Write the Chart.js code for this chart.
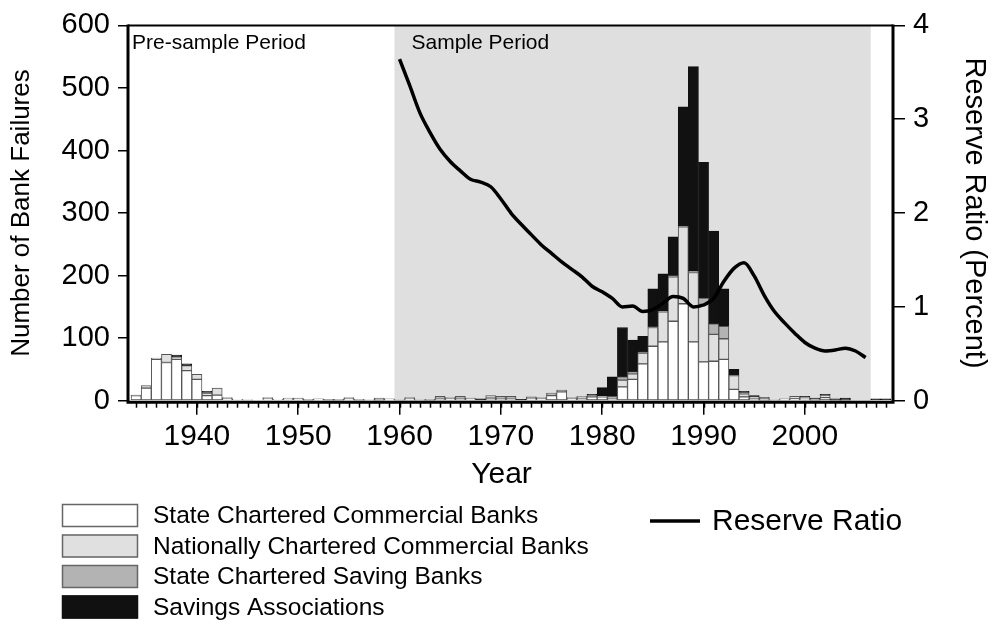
<!DOCTYPE html>
<html lang="en">
<head>
<meta charset="UTF-8">
<title>Bank Failures and Reserve Ratio</title>
<style>
    html, body { margin: 0; padding: 0; background: #fff; }
    #main { width: 992px; height: 624px; }
</style>
<script src="https://cdn.jsdelivr.net/npm/chart.js@4.4.1/dist/chart.umd.min.js"></script>
</head>
<body>
<div id="main"><canvas id="graph" width="992" height="624"></canvas></div>
<script>
// ---- data ----
const years = [
    1934, 1935, 1936, 1937, 1938, 1939,
    1940, 1941, 1942, 1943, 1944, 1945, 1946, 1947, 1948, 1949,
    1950, 1951, 1952, 1953, 1954, 1955, 1956, 1957, 1958, 1959,
    1960, 1961, 1962, 1963, 1964, 1965, 1966, 1967, 1968, 1969,
    1970, 1971, 1972, 1973, 1974, 1975, 1976, 1977, 1978, 1979,
    1980, 1981, 1982, 1983, 1984, 1985, 1986, 1987, 1988, 1989,
    1990, 1991, 1992, 1993, 1994, 1995, 1996, 1997, 1998, 1999,
    2000, 2001, 2002, 2003, 2004, 2005, 2006, 2007, 2008
]
const stateCommercial = [
    8, 20, 66, 61, 66, 48,
    34, 8, 9, 3, 2, 1, 0, 3, 2, 2,
    2, 1, 3, 1, 1, 3, 1, 1, 1, 3,
    1, 2, 1, 1, 4, 3, 4, 2, 0, 4,
    4, 4, 0, 3, 3, 8, 14, 3, 4, 6,
    6, 4, 22, 34, 59, 87, 94, 127, 155, 94,
    62, 63, 66, 18, 6, 4, 1, 1, 3, 3,
    2, 1, 5, 1, 1, 0, 0, 0, 0
]
const nationalCommercial = [
    1, 4, 2, 13, 4, 8,
    8, 4, 11, 2, 0, 0, 0, 2, 0, 2,
    1, 1, 0, 0, 1, 2, 1, 0, 3, 0,
    0, 1, 0, 1, 3, 1, 3, 1, 0, 4,
    3, 3, 0, 2, 1, 3, 3, 1, 2, 3,
    1, 3, 11, 9, 17, 30, 48, 71, 123, 111,
    92, 43, 33, 22, 5, 2, 2, 0, 0, 4,
    4, 1, 4, 0, 0, 0, 0, 0, 0
]
const stateSaving = [
    0, 0, 0, 0, 0, 0,
    0, 1, 0, 0, 0, 0, 0, 0, 0, 0,
    1, 0, 0, 1, 0, 0, 0, 0, 0, 0,
    0, 2, 0, 0, 0, 1, 0, 1, 0, 0,
    0, 0, 0, 1, 1, 1, 0, 1, 1, 0,
    0, 0, 5, 3, 1, 1, 1, 2, 1, 2,
    10, 17, 20, 1, 2, 0, 1, 0, 0, 0,
    0, 1, 0, 0, 0, 0, 0, 0, 0
]
const savingsAssociations = [
    0, 0, 0, 0, 3, 3,
    0, 2, 0, 0, 0, 0, 0, 0, 0, 0,
    0, 0, 0, 0, 0, 0, 0, 0, 0, 0,
    0, 0, 0, 0, 0, 0, 0, 0, 3, 0,
    0, 0, 2, 0, 0, 0, 0, 0, 0, 1,
    14, 31, 79, 51, 26, 61, 60, 62, 191, 327,
    217, 148, 60, 9, 2, 2, 1, 0, 0, 0,
    1, 1, 1, 2, 3, 0, 0, 3, 3
]
const ratioYears = [
    1960, 1961, 1962, 1963, 1964, 1965, 1966, 1967, 1968, 1969,
    1970, 1971, 1972, 1973, 1974, 1975, 1976, 1977, 1978, 1979,
    1980, 1981, 1982, 1983, 1984, 1985, 1986, 1987, 1988, 1989,
    1990, 1991, 1992, 1993, 1994, 1995, 1996, 1997, 1998, 1999,
    2000, 2001, 2002, 2003, 2004, 2005, 2006
]
const reserveRatio = [
    3.64, 3.36, 3.07, 2.86, 2.68, 2.55, 2.45, 2.36, 2.33, 2.28,
    2.15, 2.00, 1.88, 1.77, 1.66, 1.57, 1.48, 1.40, 1.32, 1.22,
    1.16, 1.09, 1.00, 1.01, 0.95, 0.97, 1.04, 1.11, 1.09, 1.00,
    1.02, 1.09, 1.27, 1.41, 1.47, 1.33, 1.12, 0.95, 0.83, 0.72,
    0.62, 0.56, 0.53, 0.54, 0.56, 0.53, 0.46
]
const decadeTicks = [1940, 1950, 1960, 1970, 1980, 1990, 2000]
const samplePeriod = [1960, 2006]

// ---- chart ----
const fam = '"Liberation Sans", Arial, Helvetica, sans-serif'
Chart.defaults.font.family = fam
Chart.defaults.color = '#000'

function pts(xs, ys) {
    return xs.map((v, i) => ({x: v, y: ys[i]}))
}

function barSet(label, values, fill, border) {
    return {
        type: 'bar',
        label: label,
        data: pts(years, values),
        backgroundColor: fill,
        borderColor: border,
        borderWidth: 1,
        borderSkipped: false,
        barPercentage: 1,
        categoryPercentage: 1,
        yAxisID: 'y',
        order: 2
    }
}

// shading, labels, frame, minor ticks, x title and legend
const decor = {
    id: 'decor',
    beforeDatasetsDraw(chart) {
        const {ctx, chartArea: a, scales: {x}} = chart
        const x0 = x.getPixelForValue(samplePeriod[0] - 0.5)
        const x1 = x.getPixelForValue(samplePeriod[1] + 0.5)
        ctx.save()
        ctx.fillStyle = '#dfdfdf'
        ctx.fillRect(x0, a.top, x1 - x0, a.bottom - a.top)
        ctx.fillStyle = '#000'
        ctx.font = '21px ' + fam
        ctx.textBaseline = 'alphabetic'
        ctx.fillText('Pre-sample Period', a.left + 4, a.top + 24)
        ctx.fillText('Sample Period', x0 + 17, a.top + 24)
        ctx.restore()
    },
    afterDatasetsDraw(chart) {
        const {ctx, chartArea: a, scales: {x}} = chart
        ctx.save()
        ctx.strokeStyle = '#000'
        ctx.lineWidth = 2
        ctx.beginPath()
        ctx.moveTo(a.left, a.top)
        ctx.lineTo(a.right, a.top)
        ctx.stroke()
        ctx.lineWidth = 3
        ctx.beginPath()
        ctx.moveTo(a.left, a.top - 1)
        ctx.lineTo(a.left, a.bottom + 1.5)
        ctx.lineTo(a.right, a.bottom + 1.5)
        ctx.lineTo(a.right, a.top - 1)
        ctx.stroke()
        // minor ticks, one per year
        ctx.lineWidth = 1.5
        years.forEach(yr => {
            const px = Math.round(x.getPixelForValue(yr)) + 0.5
            ctx.beginPath()
            ctx.moveTo(px, a.bottom + 2)
            ctx.lineTo(px, a.bottom + 7)
            ctx.stroke()
        })
        ctx.restore()
    },
    afterDraw(chart) {
        const {ctx, chartArea: a} = chart
        const sets = chart.data.datasets
        ctx.save()
        // x axis title
        ctx.fillStyle = '#000'
        ctx.font = '30px ' + fam
        ctx.textAlign = 'center'
        ctx.textBaseline = 'middle'
        ctx.fillText('Year', (a.left + a.right) / 2 - 9, 475)
        // legend
        ctx.textAlign = 'left'
        const rowY = [515.5, 546, 576.5, 607]
        sets.filter(d => d.type === 'bar').forEach((d, i) => {
            ctx.fillStyle = d.backgroundColor
            ctx.fillRect(62, rowY[i] - 11.5, 76, 23)
            ctx.strokeStyle = i === 3 ? '#111' : '#666'
            ctx.lineWidth = 1.5
            ctx.strokeRect(62.5, rowY[i] - 11, 75, 22)
            ctx.fillStyle = '#000'
            ctx.font = '24.5px ' + fam
            ctx.fillText(d.label, 153, rowY[i] + 1)
        })
        const line = sets.find(d => d.type === 'line')
        ctx.strokeStyle = line.borderColor
        ctx.lineWidth = 3.5
        ctx.beginPath()
        ctx.moveTo(650, 521)
        ctx.lineTo(700, 521)
        ctx.stroke()
        ctx.fillStyle = '#000'
        ctx.font = '30px ' + fam
        ctx.fillText(line.label, 712, 522)
        ctx.restore()
    }
}

new Chart(document.getElementById('graph'), {
    type: 'bar',
    data: {
        datasets: [
            barSet('State Chartered Commercial Banks', stateCommercial, '#ffffff', '#555'),
            barSet('Nationally Chartered Commercial Banks', nationalCommercial, '#e0e0e0', '#555'),
            barSet('State Chartered Saving Banks', stateSaving, '#b3b3b3', '#555'),
            barSet('Savings Associations', savingsAssociations, '#111111', '#111'),
            {
                type: 'line',
                label: 'Reserve Ratio',
                data: pts(ratioYears, reserveRatio),
                borderColor: '#000',
                borderWidth: 3.5,
                pointRadius: 0,
                tension: 0.4,
                cubicInterpolationMode: 'monotone',
                fill: false,
                yAxisID: 'y2',
                order: 1
            }
        ]
    },
    options: {
        responsive: false,
        animation: false,
        events: [],
        layout: { padding: { top: 20.7, left: 0, right: 0, bottom: 0 } },
        plugins: { legend: { display: false }, tooltip: { enabled: false } },
        scales: {
            x: {
                type: 'linear',
                stacked: true,
                offset: false,
                min: 1933.2,
                max: 2008.7,
                afterBuildTicks: s => { s.ticks = decadeTicks.map(v => ({value: v})) },
                afterFit: s => { s.height = 223.3 },
                ticks: { font: { size: 30 }, padding: 4, maxRotation: 0, autoSkip: false, callback: v => String(v) },
                grid: { display: true, offset: false, drawOnChartArea: false, tickLength: 14, color: '#000', lineWidth: 1.5 },
                border: { display: false }
            },
            y: {
                position: 'left',
                stacked: true,
                min: 0,
                max: 600,
                afterFit: s => { s.width = 128 },
                ticks: { stepSize: 100, font: { size: 29 }, padding: 8 },
                grid: { drawOnChartArea: false, tickLength: 10, color: '#000', lineWidth: 1.5 },
                border: { display: false },
                title: { display: true, text: 'Number of Bank Failures', font: { size: 26 }, padding: { top: 6, bottom: 0 } }
            },
            y2: {
                position: 'right',
                min: 0,
                max: 4,
                afterFit: s => { s.width = 99 },
                ticks: { stepSize: 1, font: { size: 29 }, padding: 8 },
                grid: { drawOnChartArea: false, tickLength: 12, color: '#000', lineWidth: 1.5 },
                border: { display: false },
                title: { display: true, text: 'Reserve Ratio (Percent)', font: { size: 29 }, padding: { top: 1, bottom: 0 } }
            }
        }
    },
    plugins: [decor]
})
</script>
</body>
</html>
